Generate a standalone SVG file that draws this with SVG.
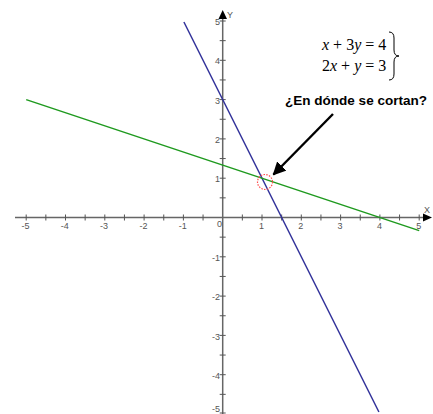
<svg xmlns="http://www.w3.org/2000/svg" width="433" height="414" viewBox="0 0 433 414">
<defs>
<style>
.axis{stroke:#666;stroke-width:1.5;fill:none}
.tick{stroke:#555;stroke-width:1;fill:none}
.lbl{font-family:"Liberation Sans",Arial,sans-serif;font-size:9px;fill:#555}
.xl{text-anchor:middle}
.yl{text-anchor:end}
.eq{font-family:"Liberation Serif","Times New Roman",serif;font-size:16px;fill:#000}
.v{font-style:italic}
</style>
<marker id="ah" viewBox="0 0 10 10" refX="9" refY="5" markerWidth="5.5" markerHeight="5.5" orient="auto" markerUnits="strokeWidth">
<path d="M0,0 L10,5 L0,10 z" fill="#000"/>
</marker>
</defs>
<rect width="433" height="414" fill="#fff"/>
<g id="axes">
<path class="axis" d="M15,217.5 H428 M222.7,414 V16"/>
<path d="M432,217.5 L423,213.5 L423,221.5 z" fill="#000"/>
<path d="M222.7,10 L218.5,19 L227,19 z" fill="#000"/>
<path class="tick" d="M26.2,214.5v6 M45.85,214.5v6 M65.5,214.5v6 M85.15,214.5v6 M104.8,214.5v6 M124.45,214.5v6 M144.1,214.5v6 M163.75,214.5v6 M183.4,214.5v6 M203.05,214.5v6 M242.35,214.5v6 M262,214.5v6 M281.65,214.5v6 M301.3,214.5v6 M320.95,214.5v6 M340.6,214.5v6 M360.25,214.5v6 M379.9,214.5v6 M399.55,214.5v6 M419.2,214.5v6"/>
<path class="tick" d="M219.7,21h6 M219.7,40.65h6 M219.7,60.3h6 M219.7,79.95h6 M219.7,99.6h6 M219.7,119.25h6 M219.7,138.9h6 M219.7,158.55h6 M219.7,178.2h6 M219.7,197.85h6 M219.7,237.15h6 M219.7,256.8h6 M219.7,276.45h6 M219.7,296.1h6 M219.7,315.75h6 M219.7,335.4h6 M219.7,355.05h6 M219.7,374.7h6 M219.7,394.35h6 M219.7,413h6"/>
<text class="lbl xl" x="25.5" y="229">-5</text>
<text class="lbl xl" x="64.8" y="229">-4</text>
<text class="lbl xl" x="104.1" y="229">-3</text>
<text class="lbl xl" x="143.4" y="229">-2</text>
<text class="lbl xl" x="182.7" y="229">-1</text>
<text class="lbl xl" x="219.5" y="227">0</text>
<text class="lbl xl" x="261.5" y="229">1</text>
<text class="lbl xl" x="300.8" y="229">2</text>
<text class="lbl xl" x="340.1" y="229">3</text>
<text class="lbl xl" x="379.4" y="229">4</text>
<text class="lbl xl" x="418.7" y="229">5</text>
<text class="lbl yl" x="220" y="25">5</text>
<text class="lbl yl" x="220" y="64.3">4</text>
<text class="lbl yl" x="220" y="103.6">3</text>
<text class="lbl yl" x="220" y="142.9">2</text>
<text class="lbl yl" x="220" y="182.2">1</text>
<text class="lbl yl" x="220" y="261">-1</text>
<text class="lbl yl" x="220" y="300.3">-2</text>
<text class="lbl yl" x="220" y="339.6">-3</text>
<text class="lbl yl" x="220" y="378.9">-4</text>
<text class="lbl yl" x="220" y="411.5">-5</text>
<text class="lbl" x="424" y="213">X</text>
<text class="lbl" x="227" y="18">Y</text>
</g>
<g id="lines">
<line id="blue" x1="183.9" y1="22" x2="378.9" y2="412" stroke="#30309a" stroke-width="1.5"/>
<line id="green" x1="26.2" y1="99.6" x2="419.2" y2="230.6" stroke="#1f9a1f" stroke-width="1.5"/>
</g>
<g id="circle">
<circle cx="265" cy="182" r="7.5" fill="none" stroke="#ff4d4d" stroke-width="1.2" stroke-dasharray="1.5,1.3"/>
</g>
<g id="equations">
<text class="eq" x="322" y="50"><tspan class="v">x</tspan> + 3<tspan class="v">y</tspan> = 4</text>
<text class="eq" x="322" y="71">2<tspan class="v">x</tspan> + <tspan class="v">y</tspan> = 3</text>
<path d="M389,32 Q394,32 394,38 L394,50 Q394,56 399,56 Q394,56 394,62 L394,74 Q394,80 389,80" fill="none" stroke="#000" stroke-width="1"/>
</g>
<g id="question">
<text x="285" y="105" font-family="'Liberation Sans',Arial,sans-serif" font-weight="bold" font-size="13" textLength="142" lengthAdjust="spacingAndGlyphs" fill="#000">¿En dónde se cortan?</text>
</g>
<g id="connectors">
<line x1="333" y1="114" x2="273.5" y2="174.5" stroke="#000" stroke-width="2.4" marker-end="url(#ah)"/>
</g>
</svg>
